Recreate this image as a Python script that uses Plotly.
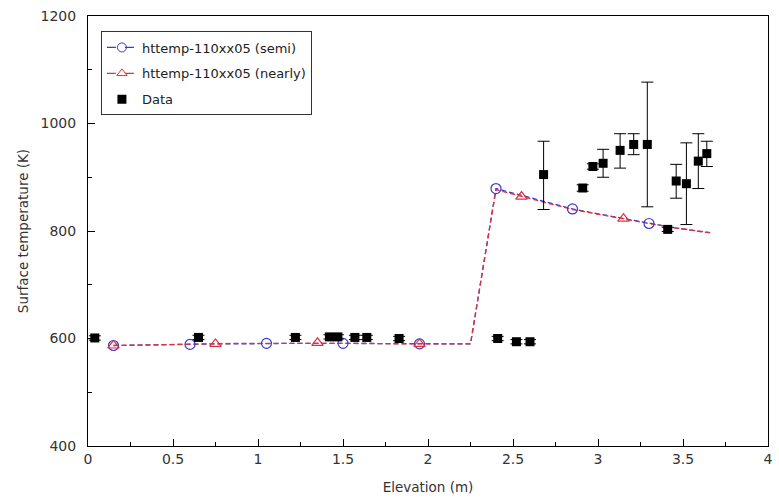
import plotly.graph_objects as go

# Model grid (elevation, m)
model_x = [0.15, 0.30, 0.45, 0.60, 0.75, 0.90, 1.05, 1.20, 1.35, 1.50, 1.65, 1.80,
           1.95, 2.10, 2.25, 2.40, 2.55, 2.70, 2.85, 3.00, 3.15, 3.30, 3.45, 3.60, 3.66]
semi_y = [587, 588, 588, 589, 590, 590, 591, 591, 591, 591, 591, 590,
          590, 590, 590, 879, 866, 853, 841, 832, 823, 814, 806, 799, 797]
nearly_y = [587, 588, 589, 589, 590, 591, 591, 591, 592, 591, 591, 590,
            590, 590, 590, 877, 864, 852, 840, 831, 823, 814, 806, 799, 797]

# Measured data
data_x = [0.04, 0.65, 1.22, 1.42, 1.47, 1.57, 1.64, 1.83, 2.41, 2.52, 2.60,
          2.68, 2.91, 2.97, 3.03, 3.13, 3.21, 3.29, 3.41, 3.46, 3.52, 3.59, 3.64]
data_y = [601, 602, 602, 603, 603, 602, 602, 600, 600, 594, 594,
          905, 880, 920, 926, 950, 961, 961, 803, 893, 888, 930, 944]
err_plus = [4, 4, 4, 4, 4, 4, 4, 4, 4, 4, 4,
            62, 6, 5, 26, 31, 20, 116, 4, 31, 76, 51, 23]
err_minus = [4, 4, 4, 4, 4, 4, 4, 4, 4, 4, 4,
             65, 6, 5, 26, 33, 19, 116, 4, 32, 76, 51, 24]

BLUE = "#3a3acc"
RED = "#e0303c"
DASH = "5px,3px"
TXT = "#333333"

fig = go.Figure()

# dense model lines
fig.add_trace(go.Scatter(x=model_x, y=semi_y, mode="lines", showlegend=False,
                         line=dict(color=BLUE, width=1.3, dash=DASH), hoverinfo="skip"))
fig.add_trace(go.Scatter(x=model_x, y=nearly_y, mode="lines", showlegend=False,
                         line=dict(color=RED, width=1.3, dash=DASH), hoverinfo="skip"))
# model markers (every 3rd / 4th grid point)
fig.add_trace(go.Scatter(x=model_x[0:22:3], y=semi_y[0:22:3], mode="markers", showlegend=False,
                         marker=dict(symbol="circle-open", size=10, color=BLUE, line=dict(width=1.2))))
fig.add_trace(go.Scatter(x=model_x[0:21:4], y=nearly_y[0:21:4], mode="markers", showlegend=False,
                         marker=dict(symbol="triangle-up-open", size=10, color=RED, line=dict(width=1.2))))

# legend entries
fig.add_trace(go.Scatter(x=[None], y=[None], mode="lines+markers", name="httemp-110xx05 (semi)",
                         legendgroup="a",
                         line=dict(color=BLUE, width=1.3, dash="dash"),
                         marker=dict(symbol="circle-open", size=9, color=BLUE)))
fig.add_trace(go.Scatter(x=[None], y=[None], mode="lines+markers", name="httemp-110xx05 (nearly)",
                         legendgroup="b",
                         line=dict(color=RED, width=1.3, dash="dash"),
                         marker=dict(symbol="triangle-up-open", size=9, color=RED)))

# data
fig.add_trace(go.Scatter(x=data_x, y=data_y, mode="markers", name="Data", legendgroup="c",
                         marker=dict(symbol="square", size=9, color="black"),
                         error_y=dict(type="data", symmetric=False, array=err_plus,
                                      arrayminus=err_minus, color="black", thickness=1, width=6)))

axis_common = dict(
    showgrid=False, zeroline=False, showline=True, linecolor="black", linewidth=1,
    mirror=True, ticks="inside", ticklen=7, tickcolor="black", automargin=False,
    tickfont=dict(family="DejaVu Sans", size=14, color=TXT),
)

fig.update_xaxes(range=[0, 4], dtick=0.5,
                 minor=dict(dtick=0.25, ticks="inside", ticklen=4, tickcolor="black"),
                 title=dict(text="Elevation (m)", font=dict(family="DejaVu Sans", size=13.5, color=TXT),
                            standoff=16),
                 **axis_common)
fig.update_yaxes(range=[400, 1200], dtick=200, ticklabelstandoff=8,
                 minor=dict(dtick=100, ticks="inside", ticklen=4, tickcolor="black"),
                 title=dict(text="Surface temperature (K)", font=dict(family="DejaVu Sans", size=13.5, color=TXT),
                            standoff=8),
                 **axis_common)

fig.update_layout(
    width=779, height=499,
    margin=dict(l=88, r=11, t=16, b=53),
    paper_bgcolor="white", plot_bgcolor="white",
    font=dict(family="DejaVu Sans", color=TXT),
    legend=dict(x=0.019, y=0.964, xanchor="left", yanchor="top",
                bgcolor="white", bordercolor="#333333", borderwidth=1,
                font=dict(family="DejaVu Sans", size=13, color="#222222"),
                tracegroupgap=6, itemwidth=30),
)

fig.write_html("out.html")
